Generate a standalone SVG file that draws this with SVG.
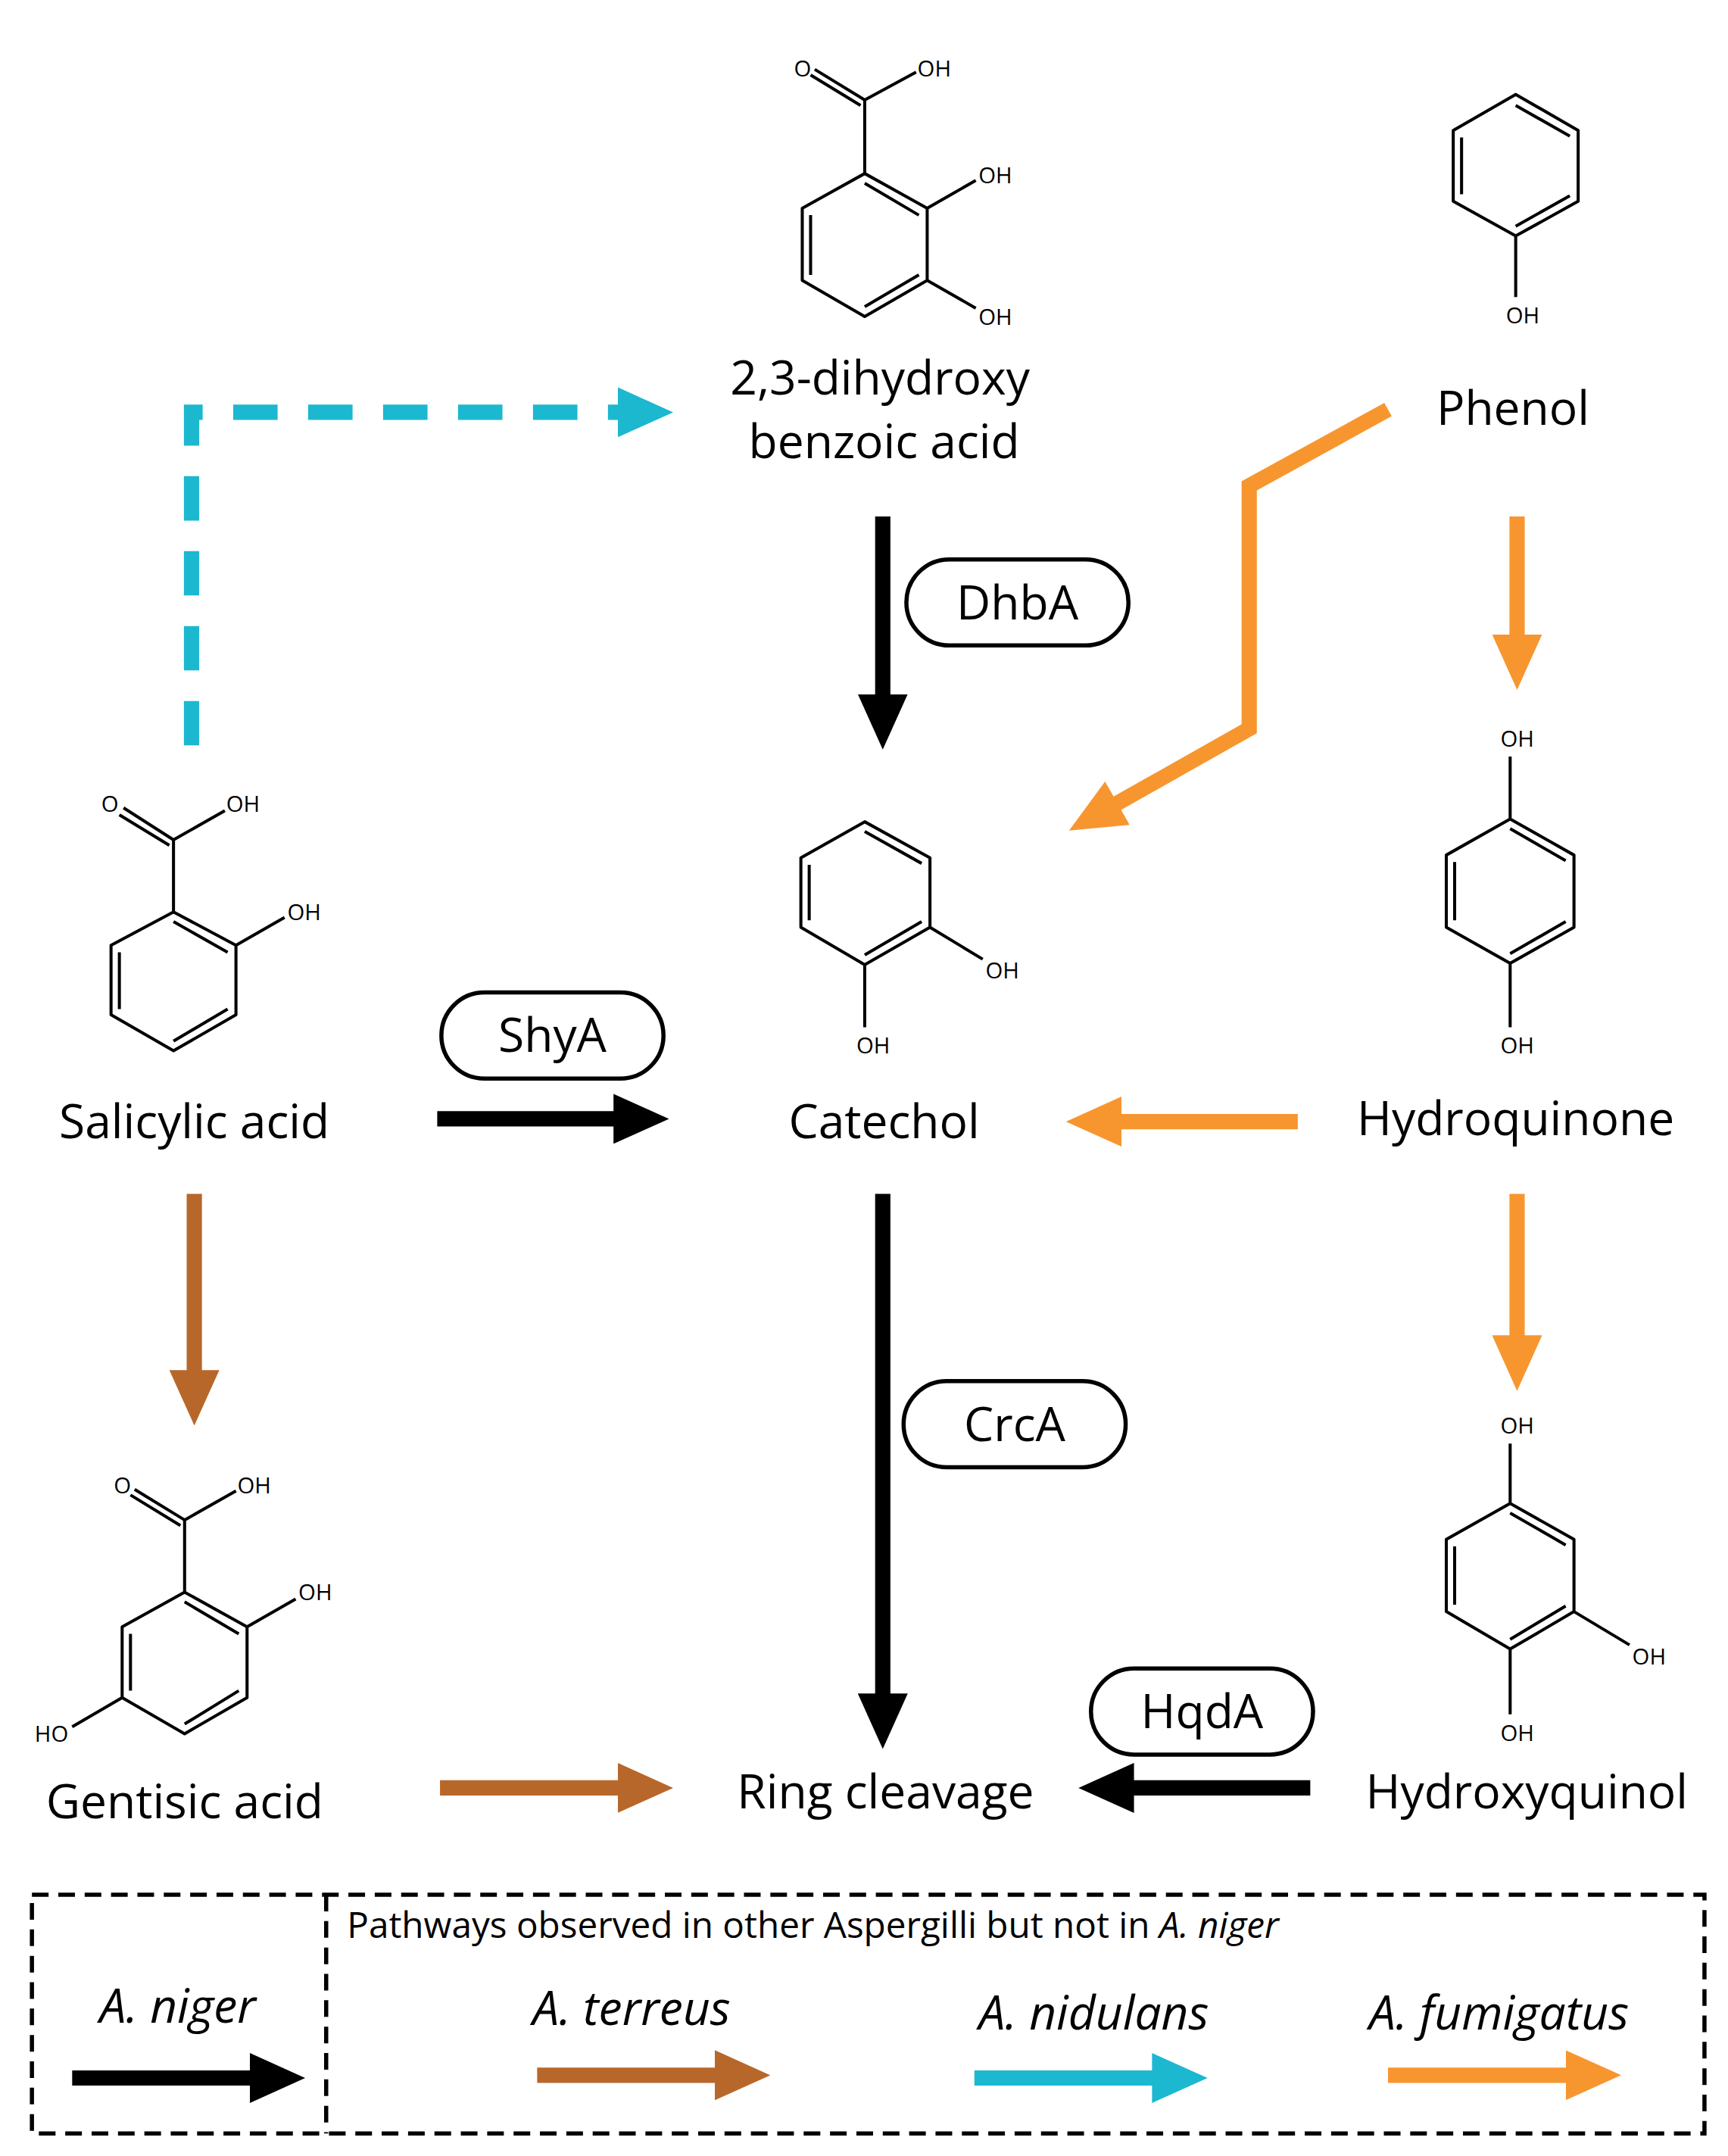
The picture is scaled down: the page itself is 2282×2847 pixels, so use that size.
<svg xmlns="http://www.w3.org/2000/svg" width="2282" height="2847" viewBox="0 0 2282 2847">
<style>
.b{fill:none;stroke:#000;stroke-width:2.2;stroke-linejoin:round}
.at{font-family:"Open Sans",sans-serif;font-size:16px;fill:#000}
.lb{font-family:"Open Sans",sans-serif;font-size:34px;fill:#000;text-anchor:middle}
.pill{fill:#fff;stroke:#000;stroke-width:3}
.a{fill:none;stroke-width:11}
.it{font-style:italic}
</style>
<defs>
<marker id="hk" markerUnits="userSpaceOnUse" markerWidth="40" markerHeight="36" viewBox="0 0 40 36" refX="15" refY="18" orient="auto"><path d="M0,0L40,18L0,36z" fill="#000"/></marker>
<marker id="ho" markerUnits="userSpaceOnUse" markerWidth="40" markerHeight="36" viewBox="0 0 40 36" refX="15" refY="18" orient="auto"><path d="M0,0L40,18L0,36z" fill="#f7962f"/></marker>
<marker id="hb" markerUnits="userSpaceOnUse" markerWidth="40" markerHeight="36" viewBox="0 0 40 36" refX="15" refY="18" orient="auto"><path d="M0,0L40,18L0,36z" fill="#b8672a"/></marker>
<marker id="hc" markerUnits="userSpaceOnUse" markerWidth="40" markerHeight="36" viewBox="0 0 40 36" refX="15" refY="18" orient="auto"><path d="M0,0L40,18L0,36z" fill="#1bb8d0"/></marker>
</defs>
<rect width="2282" height="2847" fill="#fff"/>
<g transform="scale(1.833)">
<g id="dhb">
<path class="b" d="M623,125L668,150L668,202L623,228L578,202L578,150Z M584,155L584,198 M623,221L662,198 M662,155L623,132 M623,125L623,72 M623,72L660,52 M623,72L587,50 M620,76L584,54 M668,150L703,130 M668,202L703,222"/>
<text class="at" x="572" y="55">O</text><text class="at" x="661" y="55">OH</text>
<text class="at" x="705" y="132">OH</text><text class="at" x="705" y="234">OH</text>
<text class="lb" x="634" y="284">2,3-dihydroxy</text><text class="lb" x="637" y="330">benzoic acid</text>
</g>
<g id="phenol">
<path class="b" d="M1092,68L1137,94L1137,145L1092,170L1047,145L1047,94Z M1053,99L1053,140 M1092,76L1131,98 M1131,141L1092,163 M1092,170L1092,214"/>
<text class="at" x="1085" y="233">OH</text>
<text class="lb" x="1090" y="306">Phenol</text>
</g>
<g id="salicylic">
<path class="b" d="M125,657L170,681L170,731L125,757L80,731L80,681Z M86,686L86,727 M125,750L164,727 M164,686L125,664 M125,657L125,605 M125,605L162,584 M125,605L89,582 M122,609L86,587 M170,681L205,661"/>
<text class="at" x="73" y="585">O</text><text class="at" x="163" y="585">OH</text><text class="at" x="207" y="663">OH</text>
<text class="lb" x="140" y="820">Salicylic acid</text>
</g>
<g id="catechol">
<path class="b" d="M623,592L670,618L670,668L623,695L577,668L577,618Z M583,623L583,663 M623,599L664,622 M664,664L623,688 M670,668L708,691 M623,695L623,740"/>
<text class="at" x="710" y="705">OH</text><text class="at" x="617" y="759">OH</text>
<text class="lb" x="637" y="820">Catechol</text>
</g>
<g id="hydroquinone">
<path class="b" d="M1088,590L1134,616L1134,668L1088,694L1042,668L1042,616Z M1048,621L1048,663 M1088,597L1128,620 M1128,664L1088,687 M1088,590L1088,545 M1088,694L1088,740"/>
<text class="at" x="1081" y="538">OH</text><text class="at" x="1081" y="759">OH</text>
<text class="lb" x="1092" y="818">Hydroquinone</text>
</g>
<g id="hydroxyquinol">
<path class="b" d="M1088,1083L1134,1109L1134,1161L1088,1188L1042,1161L1042,1109Z M1048,1114L1048,1156 M1088,1090L1128,1113 M1128,1157L1088,1181 M1088,1083L1088,1040 M1088,1188L1088,1235 M1134,1161L1174,1185"/>
<text class="at" x="1081" y="1033">OH</text><text class="at" x="1176" y="1199">OH</text><text class="at" x="1081" y="1254">OH</text>
<text class="lb" x="1100" y="1303">Hydroxyquinol</text>
</g>
<g id="gentisic">
<path class="b" d="M133,1147L178,1172L178,1223L133,1249L88,1223L88,1172Z M94,1177L94,1218 M133,1242L172,1218 M172,1177L133,1154 M133,1147L133,1095 M133,1095L170,1074 M133,1095L97,1073 M130,1099L94,1077 M178,1172L213,1152 M88,1223L52,1244"/>
<text class="at" x="82" y="1076">O</text><text class="at" x="171" y="1076">OH</text><text class="at" x="215" y="1153">OH</text><text class="at" x="25" y="1255">HO</text>
<text class="lb" x="133" y="1310">Gentisic acid</text>
</g>
<g id="ring">
<text class="lb" x="638" y="1303">Ring cleavage</text>
</g>
<g id="enzymes">
<rect class="pill" x="653" y="403" width="160" height="62" rx="31"/><text class="lb" x="733" y="446">DhbA</text>
<rect class="pill" x="318" y="715" width="160" height="62" rx="31"/><text class="lb" x="398" y="758">ShyA</text>
<rect class="pill" x="651" y="995" width="160" height="62" rx="31"/><text class="lb" x="731" y="1038">CrcA</text>
<rect class="pill" x="786" y="1202" width="160" height="62" rx="31"/><text class="lb" x="866" y="1245">HqdA</text>
</g>
<g id="connectors">
<path class="a" stroke="#1bb8d0" stroke-dasharray="32,22" d="M138,537L138,297L460,297" marker-end="url(#hc)"/>
<line class="a" stroke="#000" x1="636" y1="372" x2="636" y2="515" marker-end="url(#hk)"/>
<path class="a" stroke="#f7962f" d="M1000,295L900,350L900,525L792,586" marker-end="url(#ho)"/>
<line class="a" stroke="#f7962f" x1="1093" y1="372" x2="1093" y2="472" marker-end="url(#ho)"/>
<line class="a" stroke="#000" x1="315" y1="806" x2="457" y2="806" marker-end="url(#hk)"/>
<line class="a" stroke="#f7962f" x1="935" y1="808" x2="793" y2="808" marker-end="url(#ho)"/>
<line class="a" stroke="#b8672a" x1="140" y1="860" x2="140" y2="1002" marker-end="url(#hb)"/>
<line class="a" stroke="#000" x1="636" y1="860" x2="636" y2="1235" marker-end="url(#hk)"/>
<line class="a" stroke="#f7962f" x1="1093" y1="860" x2="1093" y2="977" marker-end="url(#ho)"/>
<line class="a" stroke="#b8672a" x1="317" y1="1288" x2="460" y2="1288" marker-end="url(#hb)"/>
<line class="a" stroke="#000" x1="944" y1="1288" x2="802" y2="1288" marker-end="url(#hk)"/>
</g>
<g id="legend">
<rect x="23" y="1365" width="1205" height="172" fill="none" stroke="#000" stroke-width="3" stroke-dasharray="12,7"/>
<line x1="235" y1="1365" x2="235" y2="1537" stroke="#000" stroke-width="3" stroke-dasharray="12,7"/>
<text x="250" y="1396" font-family="'Open Sans',sans-serif" font-size="26">Pathways observed in other Aspergilli but not in <tspan font-style="italic">A. niger</tspan></text>
<text class="lb it" x="128" y="1457">A. niger</text>
<text class="lb it" x="455" y="1459">A. terreus</text>
<text class="lb it" x="788" y="1462">A. nidulans</text>
<text class="lb it" x="1080" y="1462">A. fumigatus</text>
<line class="a" stroke="#000" x1="52" y1="1497" x2="195" y2="1497" marker-end="url(#hk)"/>
<line class="a" stroke="#b8672a" x1="387" y1="1495" x2="530" y2="1495" marker-end="url(#hb)"/>
<line class="a" stroke="#1bb8d0" x1="702" y1="1497" x2="845" y2="1497" marker-end="url(#hc)"/>
<line class="a" stroke="#f7962f" x1="1000" y1="1495" x2="1143" y2="1495" marker-end="url(#ho)"/>
</g>
</g>
</svg>
